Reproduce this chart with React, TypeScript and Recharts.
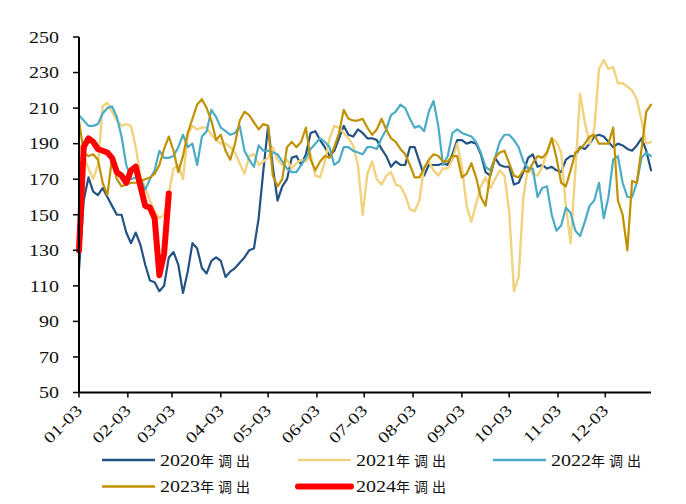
import { LineChart, Line, XAxis, YAxis } from 'recharts'

// one reading every 3 days, day 0 = 01-03
const STEP = 3

const monthTicks = [0, 31, 59, 90, 120, 151, 181, 212, 243, 273, 304, 334]
const monthLabels = ['01-03', '02-03', '03-03', '04-03', '05-03', '06-03', '07-03', '08-03', '09-03', '10-03', '11-03', '12-03']
const valueTicks = [50, 70, 90, 110, 130, 150, 170, 190, 210, 230, 250]

const out2020 = [
  119, 158, 171, 163, 161, 165, 160, 155, 150, 150,
  140, 134, 140, 133, 122, 113, 112, 107, 110, 126,
  129, 122, 106, 118, 134, 131, 120, 117, 124, 126,
  124, 115, 118, 120, 123, 126, 130, 131, 148, 175,
  200, 177, 158, 166, 170, 182, 183, 178, 184, 196,
  197, 192, 188, 183, 186, 193, 200, 195, 194, 198,
  196, 193, 193, 192, 187, 183, 177, 180, 178, 178,
  188, 188, 180, 172, 178, 178, 178, 179, 178, 184,
  192, 192, 190, 191, 190, 184, 174, 172, 182, 178,
  177, 177, 167, 168, 174, 182, 184, 177, 178, 176,
  177, 175, 174, 181, 183, 183, 188, 187, 190, 194,
  195, 194, 191, 188, 190, 189, 187, 186, 189, 193,
  186, 175,
]

const out2021 = [
  190, 183, 176, 170, 178, 211, 213, 208, 203, 200,
  201, 200, 188, 172, 165, 158, 152, 148, 150, 162,
  176, 178, 170, 195, 200, 198, 199, 199, 195, 192,
  190, 190, 188, 185, 179, 173, 183, 184, 178, 180,
  182, 188, 181, 178, 181, 176, 179, 181, 180, 184,
  172, 171, 180, 193, 200, 199, 196, 193, 189, 178,
  150, 173, 180, 170, 167, 172, 174, 167, 166, 161,
  153, 152, 158, 177, 180, 175, 172, 176, 176, 181,
  190, 177, 155, 146, 156, 166, 171, 165, 170, 175,
  172, 152, 107, 115, 160, 177, 173, 172, 177, 185,
  193, 191, 185, 155, 134, 175, 218, 202, 190, 198,
  232, 237, 232, 233, 224, 224, 222, 220, 215, 203,
  190, 191,
]

const out2022 = [
  206, 203, 200, 200, 201, 207, 210, 211, 205, 194,
  178, 170, 171, 170, 164, 170, 175, 186, 182, 182,
  183, 188, 195, 188, 190, 178, 194, 197, 209, 205,
  199, 197, 195, 196, 200, 186, 181, 177, 189, 186,
  186, 185, 184, 180, 176, 174, 174, 178, 182, 187,
  190, 193, 191, 188, 178, 180, 188, 188, 186, 185,
  184, 188, 188, 187, 193, 198, 206, 208, 212, 210,
  204, 199, 200, 197, 208, 214, 200, 178, 183, 196,
  198, 196, 195, 194, 191, 185, 177, 175, 182, 191,
  195, 195, 192, 188, 180, 176, 176, 160, 165, 166,
  150, 141, 144, 154, 151, 141, 138, 146, 155, 158,
  168, 148, 160, 181, 183, 168, 160, 160, 168, 182,
  185, 183,
]

const out2023 = [
  203, 185, 183, 184, 181, 168, 161, 182, 170, 166,
  167, 168, 168, 169, 170, 171, 173, 178, 187, 194,
  186, 174, 183, 196, 204, 212, 215, 210, 203, 192,
  195, 186, 181, 190, 203, 208, 206, 202, 198, 201,
  200, 172, 166, 170, 188, 191, 188, 191, 199, 181,
  175, 180, 183, 182, 188, 196, 209, 204, 203, 203,
  204, 199, 195, 198, 204, 198, 193, 191, 187, 184,
  178, 171, 171, 176, 181, 184, 183, 180, 180, 183,
  183, 171, 173, 179, 171, 160, 155, 173, 182, 185,
  186, 179, 172, 171, 175, 174, 179, 183, 182, 185,
  193, 182, 168, 166, 175, 185, 187, 190, 194, 195,
  190, 190, 190, 199, 158, 150, 130, 169, 168, 187,
  208, 212,
]

const out2024 = [
  130, 188, 193, 191, 187, 186, 185, 182, 174, 172,
  168, 175, 177, 166, 155, 154, 148, 116, 128, 162,
]

const series = [
  { key: 'y2020', year: '2020', values: out2020, color: '#245282', width: 2.2 },
  { key: 'y2021', year: '2021', values: out2021, color: '#f1d27e', width: 2.4 },
  { key: 'y2022', year: '2022', values: out2022, color: '#4bacc6', width: 2.2 },
  { key: 'y2023', year: '2023', values: out2023, color: '#c09100', width: 2.2 },
  { key: 'y2024', year: '2024', values: out2024, color: '#ff0000', width: 6 },
]

const rows = out2020.map((_, i) => {
  const row: Record<string, number | undefined> = { day: i * STEP }
  series.forEach((s) => {
    row[s.key] = s.values[i]
  })
  return row
})

const SERIF = '"Times New Roman", "Liberation Serif", serif'
const CJK = '"Noto Sans CJK SC", sans-serif'
// the digits in this chart are drawn wide
const WIDE = 1.25

function ValueTick({ x, y, payload }: any) {
  return (
    <g transform={`translate(${x},${y})`}>
      <text
        textAnchor="end"
        dy="0.36em"
        transform={`scale(${WIDE},1)`}
        fontFamily={SERIF}
        fontSize={16}
        fill="#111"
      >
        {payload.value}
      </text>
    </g>
  )
}

function DateTick({ x, y, payload }: any) {
  const label = monthLabels[monthTicks.indexOf(payload.value)]
  return (
    <g transform={`translate(${x + 4},${y + 12})`}>
      <text
        textAnchor="end"
        transform={`rotate(-45) scale(${WIDE},1)`}
        fontFamily={SERIF}
        fontSize={16}
        fill="#111"
      >
        {label}
      </text>
    </g>
  )
}

const legendCols = [94, 290, 485]
const legendRows = [452, 478.5]

function LegendBlock() {
  return (
    <svg
      width={670}
      height={496}
      style={{ position: 'absolute', left: 0, top: 0, pointerEvents: 'none' }}
    >
      {series.map((s, i) => {
        const x = legendCols[i % 3]
        const y = legendRows[Math.floor(i / 3)]
        return (
          <g key={s.key}>
            <line
              x1={x}
              x2={x + 53}
              y1={y}
              y2={y}
              stroke={s.color}
              strokeWidth={s.width > 3 ? 6 : 2.6}
              strokeLinecap={s.width > 3 ? 'round' : 'butt'}
            />
            <text
              transform={`translate(${x + 58},${y + 5.5}) scale(${WIDE},1)`}
              fontFamily={SERIF}
              fontSize={16}
              fill="#111"
            >
              {s.year}
            </text>
            <text
              x={x + 98}
              y={y + 5.5}
              fontFamily={CJK}
              fontSize={14}
              letterSpacing={4}
              fill="#111"
            >
              年调出
            </text>
          </g>
        )
      })}
    </svg>
  )
}

export default function App() {
  return (
    <div style={{ position: 'relative', width: 670, height: 496 }}>
      <LineChart
        width={670}
        height={440}
        data={rows}
        margin={{ top: 29, right: 27, left: 11, bottom: 0 }}
      >
        <XAxis
          dataKey="day"
          type="number"
          domain={[0, 363]}
          ticks={monthTicks}
          interval={0}
          height={55.5}
          tickSize={5}
          tickMargin={2}
          axisLine={{ stroke: '#000', strokeWidth: 2 }}
          tickLine={{ stroke: '#000', strokeWidth: 1.5 }}
          tick={<DateTick />}
        />
        <YAxis
          type="number"
          domain={[50, 250]}
          ticks={valueTicks}
          interval={0}
          width={60}
          tickSize={6}
          tickMargin={14}
          axisLine={{ stroke: '#000', strokeWidth: 2 }}
          tickLine={{ stroke: '#000', strokeWidth: 1.5 }}
          tick={<ValueTick />}
        />
        {series.map((s) => (
          <Line
            key={s.key}
            dataKey={s.key}
            type="linear"
            stroke={s.color}
            strokeWidth={s.width}
            strokeLinejoin="round"
            strokeLinecap="round"
            dot={false}
            activeDot={false}
            isAnimationActive={false}
          />
        ))}
      </LineChart>
      <LegendBlock />
    </div>
  )
}
